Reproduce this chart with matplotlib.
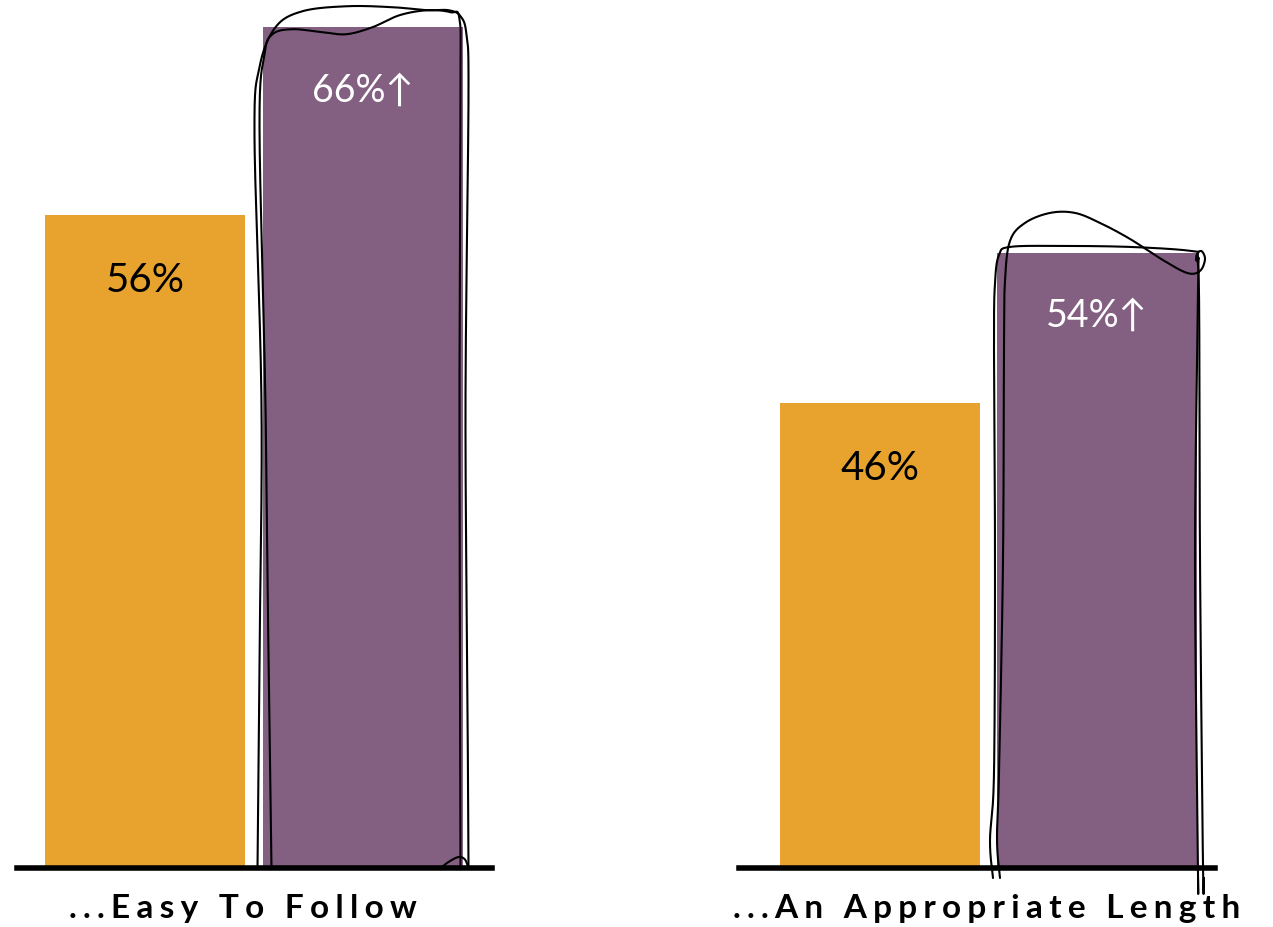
import numpy as np
import matplotlib
matplotlib.use("Agg")
import matplotlib.pyplot as plt
from matplotlib.transforms import IdentityTransform
from matplotlib import font_manager

# Survey results: share of respondents agreeing, before vs after
groups = ["...Easy To Follow", "...An Appropriate Length"]
before = [56, 46]
after = [66, 54]
before_labels = ["56%", "46%"]
after_labels = ["66%\u2191", "54%\u2191"]

ORANGE = "#E8A32E"
PURPLE = "#835F82"
Y_MIN, Y_MAX = 21.3, 67.5

W, H = 1273, 928
fig = plt.figure(figsize=(W / 100, H / 100), dpi=100)

names = {f.name for f in font_manager.fontManager.ttflist}
VALUE_FONT = ["Lato", "DejaVu Sans"] if "Lato" in names else ["DejaVu Sans"]
CAT_FONT = ["Lato", "DejaVu Sans"] if "Lato" in names else ["DejaVu Sans"]


def spaced(s):
    # wide tracking between letters
    return "\u2009\u200a".join(s)


def catmull(points, n=24):
    p = np.asarray(points, float)
    p = np.vstack([p[0], p, p[-1]])
    out = []
    for i in range(1, len(p) - 2):
        p0, p1, p2, p3 = p[i - 1], p[i], p[i + 1], p[i + 2]
        t = np.linspace(0, 1, n, endpoint=False)[:, None]
        seg = 0.5 * ((2 * p1) + (-p0 + p2) * t + (2 * p0 - 5 * p1 + 4 * p2 - p3) * t ** 2
                     + (-p0 + 3 * p1 - 3 * p2 + p3) * t ** 3)
        out.append(seg)
    out.append(p[-2][None, :])
    return np.vstack(out)


def sketch(ax, bar, strokes):
    """Hand-drawn loops around a bar; stroke points are pixel offsets
    (down-positive) from the bar's corners: (fx, dx, fy, dy)."""
    x0, y0 = bar.get_x(), Y_MIN
    x1, y1 = bar.get_x() + bar.get_width(), bar.get_height()
    (L, B), (R, T) = ax.transData.transform([(x0, y0), (x1, y1)])
    for stroke in strokes:
        pts = []
        for fx, dx, fy, dy in stroke:
            px = L + fx * (R - L) + dx
            py = B + fy * (T - B) - dy
            pts.append((px, py))
        c = catmull(pts)
        ax.plot(c[:, 0], c[:, 1], color="black", lw=1.5, transform=IdentityTransform(),
                clip_on=False, zorder=4, solid_capstyle="round")


strokes_left = [
    # outer loop
    [(0, -5, 0, 1), (0, -3, 0.25, 0), (0, -1, 0.55, 0), (0, -8, 1, 110),
     (0, -3, 1, 40), (0, 13, 1, 0), (0, 40, 1, -16), (0, 85, 1, -21), (0, 130, 1, -20),
     (1, -35, 1, -17), (1, -14, 1, -17), (1, -2, 1, -11), (1, 4, 1, 8), (1, 6, 1, 70),
     (1, 3, 0.55, 0), (1, 5, 0.2, 0), (1, 6, 0, 0)],
    # inner loop
    [(0, 9, 0, 1), (0, 6, 0.25, 0), (0, 3, 0.55, 0), (0, -3, 1, 100),
     (0, 2, 1, 27), (0, 10, 1, 7), (0, 30, 1, 2), (0, 60, 1, 5), (0, 84, 1, 7),
     (0, 110, 1, 0), (0, 137, 1, -12), (1, -35, 1, -17), (1, -12, 1, -15), (1, -3, 1, -8),
     (1, -2, 1, 60), (1, -3, 0.55, 0), (1, -2, 0, 1)],
    # small hump at the foot
    [(1, -23, 0, 1), (1, -14, 0, -6), (1, -4, 0, -11), (1, 2, 0, -9), (1, 5, 0, -3), (1, 6, 0, 0)],
]

strokes_right = [
    [(0, -4, 0, 10), (0, -7, 0, -28), (0, -3, 0, -95), (0, -2, 0.5, 0),
     (0, -3, 0.85, 0), (0, -2, 1, 30), (0, 2, 1, 2), (0, 13, 1, -6), (0, 63, 1, -7),
     (0, 133, 1, -6), (1, -6, 1, -2), (1, 1, 1, 4), (1, 1, 1, 40), (1, -2, 0.5, 0),
     (1, 1, 0, 0), (1, 1, 0, 10)],
    [(0, 3, 0, 10), (0, 0, 0, -28), (0, 2, 0, -95), (0, 6, 0.5, 0),
     (0, 7, 0.85, 0), (0, 8, 1, 28), (0, 13, 1, -12), (0, 28, 1, -30), (0, 53, 1, -40),
     (0, 78, 1, -40), (0, 103, 1, -30), (0, 133, 1, -14), (1, -36, 1, 6), (1, -10, 1, 20),
     (1, 3, 1, 18), (1, 8, 1, 6), (1, 4, 1, -2), (1, -1, 1, 6), (1, 2, 1, 40),
     (1, 3, 0.5, 0), (1, 6, 0, 0), (1, 7, 0, 10)],
]

layouts = [
    dict(left=17, width=475, xoff=0.512, label_x=0.475),
    dict(left=739, width=476, xoff=0.562, label_x=0.52),
]
strokes_all = [strokes_left, strokes_right]

for i, g in enumerate(groups):
    lay = layouts[i]
    ax = fig.add_axes([lay["left"] / W, 59 / H, lay["width"] / W, 869 / H])
    span = lay["width"] / 250.0
    ax.set_xlim(-lay["xoff"], -lay["xoff"] + span)
    ax.set_ylim(Y_MIN, Y_MAX)
    ax.patch.set_alpha(0)
    for s in ["top", "left", "right"]:
        ax.spines[s].set_visible(False)
    ax.spines["bottom"].set_linewidth(4.0)
    ax.spines["bottom"].set_color("black")
    ax.spines["bottom"].set_zorder(3)
    ax.set_xticks([])
    ax.set_yticks([])

    b1 = ax.bar(0, before[i], width=0.8, color=ORANGE, zorder=1)[0]
    b2 = ax.bar(0.87, after[i], width=0.8, color=PURPLE, zorder=1)[0]

    ax.text(0, before[i] - 3.4, before_labels[i], ha="center", va="center",
            fontsize=29, color="black", family=VALUE_FONT, fontweight="normal")
    ax.text(0.87, after[i] - 3.3, after_labels[i], ha="center", va="center",
            fontsize=27, color="white", family=VALUE_FONT, fontweight="normal")

    sketch(ax, b2, strokes_all[i])

    ax.text(lay["label_x"], -0.046, spaced(g), transform=ax.transAxes, ha="center",
            va="center", fontsize=24, fontweight="bold", family=CAT_FONT, color="black")

fig.savefig("out.png", dpi=100)
